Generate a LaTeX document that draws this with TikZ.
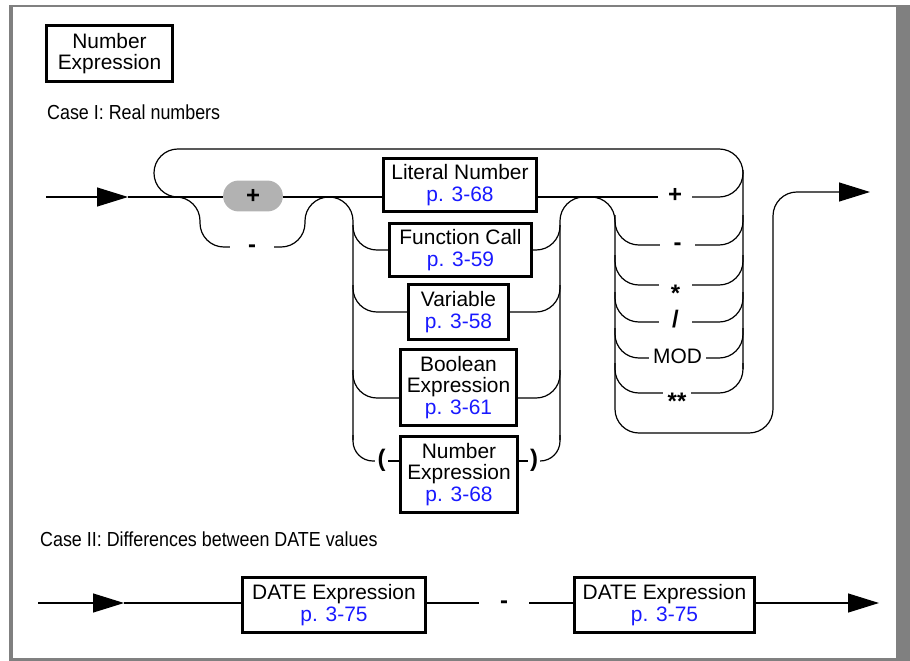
\documentclass[tikz,border=0pt]{standalone}
\usepackage{fontspec}
\setmainfont{Liberation Sans}
\newfontfamily\narrowfont[FakeStretch=0.88]{Liberation Sans}
\usetikzlibrary{arrows.meta,calc}

\definecolor{framegray}{gray}{0.5}
\definecolor{pillgray}{gray}{0.7}
\definecolor{pageblue}{rgb}{0.1,0.1,1}
\newcommand{\pg}[1]{\textcolor{pageblue}{#1}}

\tikzset{
  rail/.style={line width=1.2pt, rounded corners=24pt},
  railtip/.style={-{Triangle[length=31pt,width=19pt]}},
  box/.style={draw, line width=2.8pt, inner sep=0pt, align=center,
    font=\fontsize{21}{21.5}\selectfont},
  op/.style={inner sep=0pt, minimum width=34pt, text height=16pt, text depth=4.5pt,
    font=\fontsize{24}{24}\selectfont\bfseries},
  pill/.style={fill=pillgray, rounded corners=15.5pt, minimum width=60pt,
    minimum height=31pt, inner sep=0pt, font=\fontsize{24}{24}\selectfont\bfseries},
  casetext/.style={anchor=base west, inner sep=0pt, font=\fontsize{20.4}{21}\narrowfont},
}

\begin{document}
\begin{tikzpicture}[x=1bp,y=-1bp]
\useasboundingbox (0,0) rectangle (910,661);
% frame
\fill[framegray] (9,5) rectangle (13,661);
\fill[framegray] (9,5) rectangle (910,7);
\fill[framegray] (896,5) rectangle (910,661);
\fill[framegray] (9,658) rectangle (910,661);

\node[box, minimum width=126pt, minimum height=56pt] (legend) at (109.5,53.5) {Number\\Expression};

% Case I
\node[casetext] (case1) at (47,120) {Case I: Real numbers};
\coordinate (in1) at (46,197);
\coordinate (arr1) at (128,197);
\coordinate (out1) at (870,192);
\node[pill] (sign) at (253,196) {+};
\node[op, minimum width=44pt] (neg) at (252,247) {-};

\node[box, minimum width=153pt, minimum height=53pt] (lit) at (460,185) {Literal Number\\\pg{p. 3-68}};
\node[box, minimum width=142pt, minimum height=53pt] (func) at (460.5,250) {Function Call\\\pg{p. 3-59}};
\node[box, minimum width=100pt, minimum height=55pt] (var) at (458.5,312) {Variable\\\pg{p. 3-58}};
\node[box, minimum width=116pt, minimum height=76pt] (bool) at (458.5,387.5) {Boolean\\Expression\\\pg{p. 3-61}};
\node[box, minimum width=117pt, minimum height=76pt] (nexpr) at (459,474.5) {Number\\Expression\\\pg{p. 3-68}};
\node[op, minimum width=13pt] (lparen) at (381.5,461) {(};
\node[op, minimum width=12pt] (rparen) at (534,461) {)};

\node[op] (add) at (675,197) {+};
\node[op, minimum width=35pt] (sub) at (677.5,245) {-};
\node[op, minimum width=33pt] (mul) at (675.5,285) {\raisebox{-0.43em}{*}};
\node[op, minimum width=33pt] (dvd) at (675.5,322) {/};
\node[op, minimum width=57pt, font=\fontsize{21}{21}\selectfont] (mod) at (677.5,358) {MOD};
\node[op, minimum width=28pt] (pow) at (677,393) {\raisebox{-0.45em}{**}};

% main line and sign
\draw[rail, railtip] (in1) -- (arr1);
\draw[rail] (arr1) -- (arr1 -| sign.west);
\draw[rail] (sign.east |- arr1) -- (arr1 -| lit.west);
\draw[rail] (190,197) -- (154,197) -- (154,149) -- (743,149) -- (743,369);
\draw[rail] (165,197) -- (200,197) -- (200,247) -- (neg.west);
\draw[rail] (neg.east) -- (305,247) -- (305,197) -- (353,197) -- (353,440);

% operands
\draw[rail] (353,225) |- (func.west);
\draw[rail] (353,285) |- (var.west);
\draw[rail] (353,370) |- ($(bool.west)+(0,10.5)$);
\draw[rail, rounded corners=20pt] (353,435) |- (lparen.west);
\draw[rail] (lparen.east) -- (lparen.east -| nexpr.west);
\draw[rail] (rparen.west) -- (rparen.west -| nexpr.east);
\draw[rail] (func.east) -| (560,225);
\draw[rail] (var.east) -| (560,285);
\draw[rail] ($(bool.east)+(0,10.5)$) -| (560,370);
\draw[rail, rounded corners=20pt] (rparen.east) -| (560,435);
\draw[rail, railtip] (560,440) -- (560,197) -- (615,197) -- (615,433) -- (773,433) -- (773,192) -- (out1);

% operators
\draw[rail] (add.west -| lit.east) -- (add.west);
\draw[rail] (add.east) -| (743,170);
\draw[rail] (615,215) |- (sub.west);
\draw[rail] (sub.east) -| (743,215);
\draw[rail] (615,255) |- (mul.west);
\draw[rail] (mul.east) -| (743,255);
\draw[rail] (615,292) |- (dvd.west);
\draw[rail] (dvd.east) -| (743,292);
\draw[rail] (615,328) |- (mod.west);
\draw[rail] (mod.east) -| (743,328);
\draw[rail] (615,363) |- (pow.west);
\draw[rail] (pow.east) -| (743,363);

% Case II
\node[casetext] (case2) at (40,546) {Case II: Differences between DATE values};
\coordinate (in2) at (38,603);
\coordinate (arr2) at (124,603);
\coordinate (out2) at (879,603);
\node[box, minimum width=183pt, minimum height=55pt] (date1) at (334,605) {DATE Expression\\\pg{p. 3-75}};
\node[op, minimum width=50pt] (diff) at (504,603) {-};
\node[box, minimum width=180pt, minimum height=55pt] (date2) at (664.5,605) {DATE Expression\\\pg{p. 3-75}};
\draw[rail, railtip] (in2) -- (arr2);
\draw[rail] (arr2) -- (arr2 -| date1.west);
\draw[rail] (diff.west -| date1.east) -- (diff.west);
\draw[rail] (diff.east) -- (diff.east -| date2.west);
\draw[rail, railtip] (out2 -| date2.east) -- (out2);
\end{tikzpicture}
\end{document}
